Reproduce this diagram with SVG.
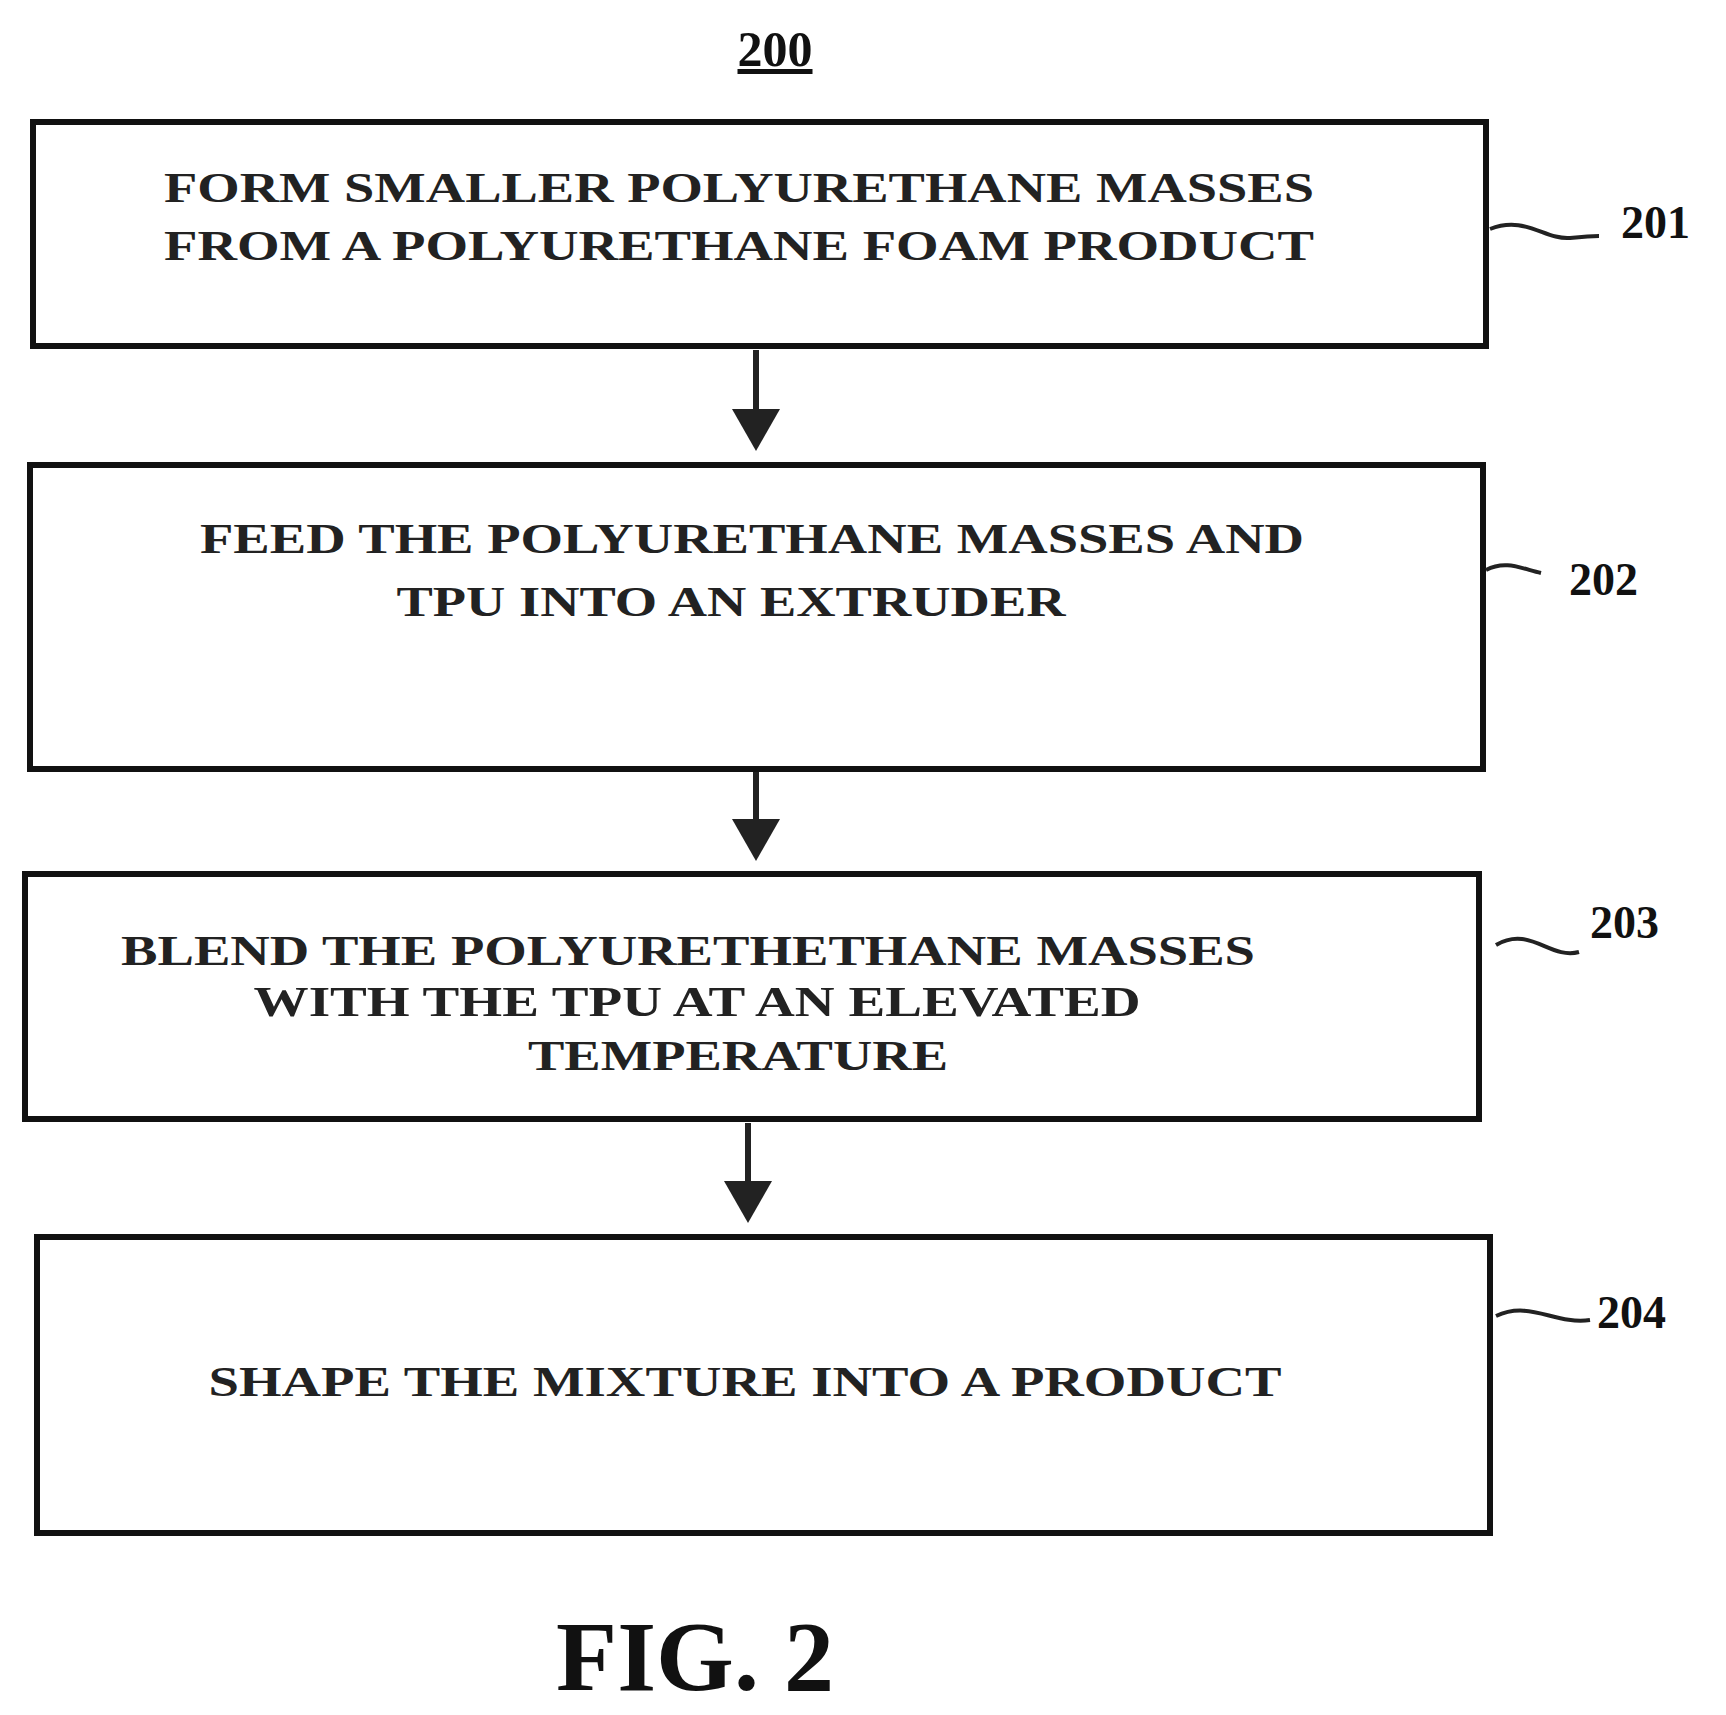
<svg xmlns="http://www.w3.org/2000/svg" width="1726" height="1715" viewBox="0 0 1726 1715">
<style>
.box{fill:#fff;stroke:#111;stroke-width:6}
.t{font-family:"Liberation Serif",serif;font-weight:bold;font-size:42px;fill:#222;text-anchor:middle}
.lbl{font-family:"Liberation Serif",serif;font-weight:bold;font-size:46px;fill:#111}
.sq{fill:none;stroke:#222;stroke-width:4}
.con{stroke:#222;stroke-width:6;fill:none}
</style>
<defs><marker id="ah" markerWidth="8" markerHeight="8" refX="6" refY="4" orient="auto" markerUnits="strokeWidth"><path d="M0,0L7,4L0,8z" fill="#222"/></marker></defs>
<rect width="1726" height="1715" fill="#fff"/>
<text x="775" y="66" class="lbl" text-anchor="middle" text-decoration="underline" style="font-size:50px">200</text>
<g id="n201"><rect class="box" x="33" y="122" width="1453" height="224"/>
<text class="t" x="739" y="202" textLength="1150" lengthAdjust="spacingAndGlyphs">FORM SMALLER POLYURETHANE MASSES</text>
<text class="t" x="739" y="260" textLength="1150" lengthAdjust="spacingAndGlyphs">FROM A POLYURETHANE FOAM PRODUCT</text>
<path class="sq" d="M1490,229 C1525,215 1545,240 1570,238 S1590,236 1599,236"/><text class="lbl" x="1621" y="238">201</text></g>
<g id="n202"><rect class="box" x="30" y="465" width="1453" height="304"/>
<text class="t" x="752" y="553" textLength="1104" lengthAdjust="spacingAndGlyphs">FEED THE POLYURETHANE MASSES AND</text>
<text class="t" x="731" y="616" textLength="669" lengthAdjust="spacingAndGlyphs">TPU INTO AN EXTRUDER</text>
<path class="sq" d="M1486,570 C1505,560 1520,568 1541,573"/><text class="lbl" x="1569" y="595">202</text></g>
<g id="n203"><rect class="box" x="25" y="874" width="1454" height="245"/>
<text class="t" x="688" y="965" textLength="1134" lengthAdjust="spacingAndGlyphs">BLEND THE POLYURETHETHANE MASSES</text>
<text class="t" x="697" y="1016" textLength="887" lengthAdjust="spacingAndGlyphs">WITH THE TPU AT AN ELEVATED</text>
<text class="t" x="738" y="1070" textLength="420" lengthAdjust="spacingAndGlyphs">TEMPERATURE</text>
<path class="sq" d="M1496,945 C1530,925 1550,960 1579,952"/><text class="lbl" x="1590" y="938">203</text></g>
<g id="n204"><rect class="box" x="37" y="1237" width="1453" height="296"/>
<text class="t" x="745" y="1396" textLength="1073" lengthAdjust="spacingAndGlyphs">SHAPE THE MIXTURE INTO A PRODUCT</text>
<path class="sq" d="M1496,1316 C1530,1300 1555,1325 1590,1320"/><text class="lbl" x="1597" y="1328">204</text></g>
<g id="connectors">
<line class="con" x1="756" y1="350" x2="756" y2="445" marker-end="url(#ah)"/>
<line class="con" x1="756" y1="772" x2="756" y2="855" marker-end="url(#ah)"/>
<line class="con" x1="748" y1="1123" x2="748" y2="1217" marker-end="url(#ah)"/>
</g>
<text x="695" y="1690" class="lbl" text-anchor="middle" style="font-size:100px">FIG. 2</text>
</svg>
